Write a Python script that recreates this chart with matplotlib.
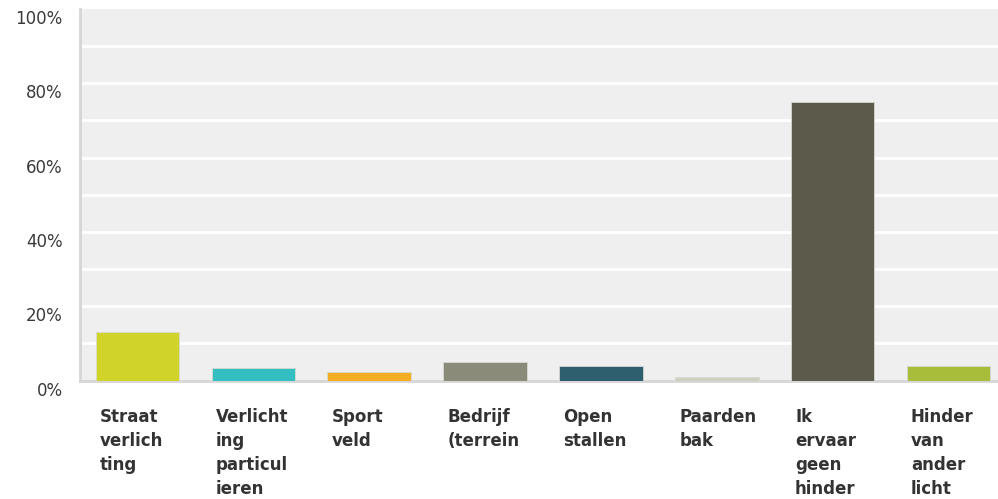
import matplotlib
matplotlib.use("Agg")
import matplotlib.pyplot as plt
import matplotlib.transforms as mtransforms

plt.rcParams["font.family"] = ["DejaVu Sans"]

labels = ["Straat\nverlich\nting", "Verlicht\ning\nparticul\nieren", "Sport\nveld",
          "Bedrijf\n(terrein", "Open\nstallen", "Paarden\nbak",
          "Ik\nervaar\ngeen\nhinder", "Hinder\nvan\nander\nlicht"]
values = [13.0, 3.4, 2.4, 4.9, 3.9, 0.9, 75.0, 3.9]
colors = ["#d0d32a", "#33bfc1", "#f4ae24", "#8a8b78", "#2e5f6e", "#cfcfbf", "#5c5a4a", "#a8be3a"]
yticks = [0, 20, 40, 60, 80, 100]

fig = plt.figure(figsize=(9.98, 4.99), dpi=100)
ax = fig.add_axes([79.5 / 998, 118.5 / 499, 927.0 / 998, 371.5 / 499])
ax.set_facecolor("#efefef")

x = list(range(len(values)))
ax.bar(x, values, width=0.72, color=colors, edgecolor="#d8d8d0", linewidth=0.6, zorder=3)

ax.set_xlim(-0.5, 7.5)
ax.set_ylim(0, 100)
for g in range(10, 100, 10):
    ax.axhline(g, color="white", lw=2, zorder=1)

ax.set_xticks([])
ax.set_yticks(yticks)
ax.set_yticklabels([f"{v}%" for v in yticks], fontsize=12, color="#3a3a3a")
ax.tick_params(axis="y", length=0, pad=12)
off = mtransforms.ScaledTranslation(0, -8 / 100, fig.dpi_scale_trans)
for t in ax.get_yticklabels():
    t.set_transform(t.get_transform() + off)

for s in ["top", "right"]:
    ax.spines[s].set_visible(False)
ax.spines["left"].set_color("#d6d6d6")
ax.spines["left"].set_linewidth(2)
ax.spines["bottom"].set_color("#d6d6d6")
ax.spines["bottom"].set_linewidth(2)

trans = mtransforms.blended_transform_factory(ax.transData, ax.transAxes)
for i, lab in enumerate(labels):
    ax.text(i - 0.36 + 0.035, -0.075, lab, transform=trans, ha="left", va="top",
            fontsize=12, fontweight="bold", color="#333333", linespacing=1.42)

fig.savefig("out.png", dpi=100)
